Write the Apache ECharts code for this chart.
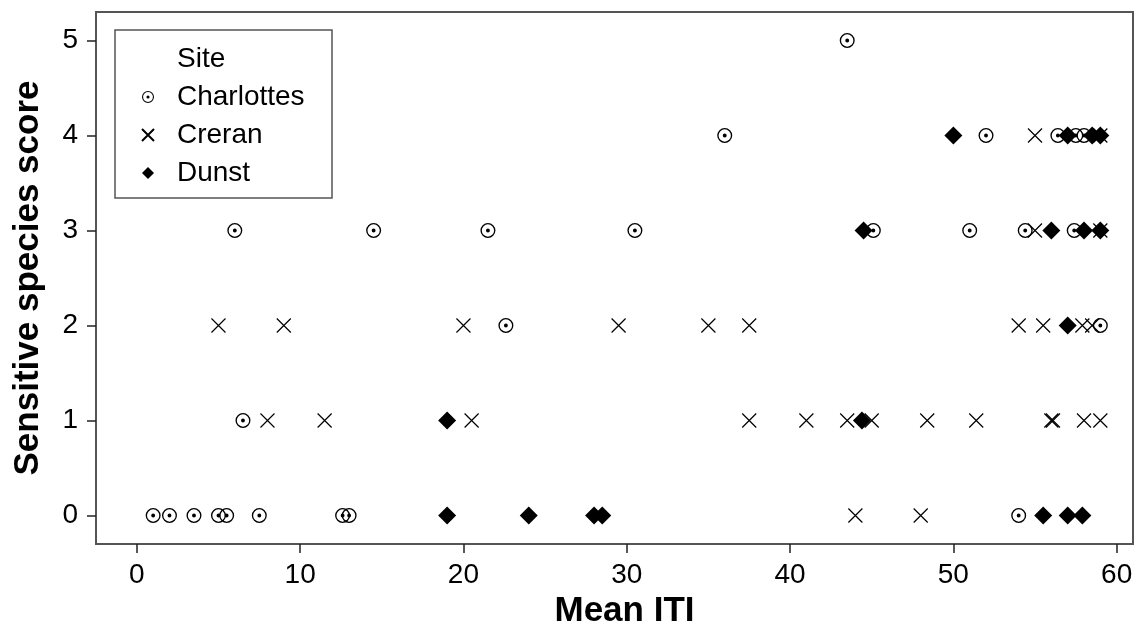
<!DOCTYPE html>
<html>
<head>
<meta charset="utf-8">
<script src="https://cdn.jsdelivr.net/npm/echarts@6/dist/echarts.min.js"></script>
<style>
  html, body { margin: 0; padding: 0; background: #fff; }
  #chart { width: 1146px; height: 628px; }
</style>
</head>
<body>
<div id="chart"></div>
<script>
// values: mean ITI (x) and sensitive species score (y) per site
const charlottesX = [1.0, 2.0, 3.5, 5.0, 5.5, 7.5, 12.6, 13.0, 54.0,
  6.5,
  22.6, 59.0,
  6.0, 14.5, 21.5, 30.5, 45.1, 51.0, 54.4, 57.4,
  36.0, 52.0, 56.4, 57.5, 58.0,
  43.5];
const charlottesY = [0, 0, 0, 0, 0, 0, 0, 0, 0,
  1,
  2, 2,
  3, 3, 3, 3, 3, 3, 3, 3,
  4, 4, 4, 4, 4,
  5];

const creranX = [44.0, 48.0,
  8.0, 11.5, 20.5, 37.5, 41.0, 43.5, 45.0, 48.4, 51.4, 56.0, 56.1, 58.0, 59.0,
  5.0, 9.0, 20.0, 29.5, 35.0, 37.5, 54.0, 55.5, 57.9, 58.5,
  55.0, 59.0,
  55.0, 59.0];
const creranY = [0, 0,
  1, 1, 1, 1, 1, 1, 1, 1, 1, 1, 1, 1, 1,
  2, 2, 2, 2, 2, 2, 2, 2, 2, 2,
  3, 3,
  4, 4];

const dunstX = [19.0, 24.0, 28.0, 28.5, 55.5, 57.0, 57.9,
  19.0, 44.4,
  57.0,
  44.5, 56.0, 58.0, 59.0,
  50.0, 57.0, 58.5, 59.0];
const dunstY = [0, 0, 0, 0, 0, 0, 0,
  1, 1,
  2,
  3, 3, 3, 3,
  4, 4, 4, 4];

const siteNames = ['Charlottes', 'Creran', 'Dunst'];
const xTicks = [0, 10, 20, 30, 40, 50, 60];
const yTicks = [0, 1, 2, 3, 4, 5];

const font = 'Liberation Sans, Arial, sans-serif';

// ring with a dot in the middle (holes by opposite winding)
const dotCircle = 'path://M0,10 A10,10 0 1,1 20,10 A10,10 0 1,1 0,10 Z ' +
  'M1.8,10 A8.2,8.2 0 1,0 18.2,10 A8.2,8.2 0 1,0 1.8,10 Z ' +
  'M7.4,10 A2.6,2.6 0 1,1 12.6,10 A2.6,2.6 0 1,1 7.4,10 Z';
const cross = 'path://M0,0 L20,20 M20,0 L0,20';
// path version so the legend keeps the aspect
const diamond = 'path://M10,0 L20,10 L10,20 L0,10 Z';

const zip = (xs, ys) => xs.map((x, i) => [x, ys[i]]);

const chart = echarts.init(document.getElementById('chart'));

const option = {
  animation: false,
  backgroundColor: '#fff',
  textStyle: { fontFamily: font, color: '#000' },
  grid: {
    left: 96, top: 12, right: 13, bottom: 84,
    containLabel: false,
    outerBoundsMode: 'none',
    show: true,
    borderColor: '#555',
    borderWidth: 2,
  },
  graphic: [
    {
      type: 'rect',
      shape: { x: 115, y: 30, width: 217, height: 168 },
      style: { fill: 'none', stroke: '#555', lineWidth: 1.5 },
    },
    {
      type: 'text',
      left: 177, top: 45,
      style: { text: 'Site', fontSize: 28, fontFamily: font, fill: '#000' },
    },
  ],
  legend: {
    orient: 'vertical',
    left: 141,
    top: 83,
    padding: 0,
    itemGap: 10,
    itemWidth: 48,
    itemHeight: 12,
    data: siteNames,
    textStyle: { fontSize: 28, fontFamily: font, color: '#000' },
  },
  xAxis: {
    type: 'value',
    min: -2.5,
    max: 61,
    name: 'Mean ITI',
    nameLocation: 'middle',
    nameGap: 50,
    nameTextStyle: { fontSize: 35, fontWeight: 'bold', fontFamily: font, color: '#000', padding: [0, 0, 0, 20] },
    axisLine: { show: false, onZero: false },
    axisTick: { show: true, length: 9, customValues: xTicks, lineStyle: { color: '#222', width: 1.5 } },
    axisLabel: { customValues: xTicks, margin: 17, fontSize: 28, fontFamily: font, color: '#000' },
    splitLine: { show: false },
  },
  yAxis: {
    type: 'value',
    min: -0.3,
    max: 5.3,
    name: 'Sensitive species score',
    nameLocation: 'middle',
    nameGap: 50,
    nameTextStyle: { fontSize: 35, fontWeight: 'bold', fontFamily: font, color: '#000' },
    axisLine: { show: false, onZero: false },
    axisTick: { show: true, length: 9, customValues: yTicks, lineStyle: { color: '#222', width: 1.5 } },
    axisLabel: { customValues: yTicks, margin: 18, fontSize: 28, fontFamily: font, color: '#000' },
    splitLine: { show: false },
  },
  series: [
    {
      name: siteNames[0],
      type: 'scatter',
      symbol: dotCircle,
      symbolSize: 15,
      itemStyle: { color: '#000', opacity: 1 },
      data: zip(charlottesX, charlottesY),
    },
    {
      name: siteNames[1],
      type: 'scatter',
      symbol: cross,
      symbolSize: 14,
      itemStyle: { color: 'rgba(0,0,0,0)', borderColor: '#000', borderWidth: 1.2, opacity: 1 },
      data: zip(creranX, creranY),
    },
    {
      name: siteNames[2],
      type: 'scatter',
      symbol: diamond,
      symbolSize: 18,
      itemStyle: { color: '#000', opacity: 1 },
      data: zip(dunstX, dunstY),
    },
  ],
};

chart.setOption(option);
</script>
</body>
</html>
